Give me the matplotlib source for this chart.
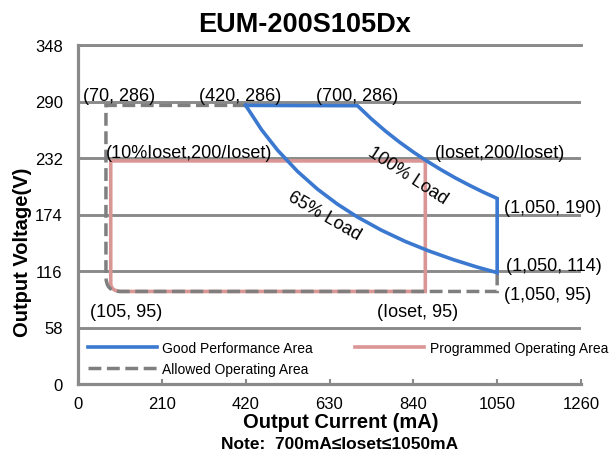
import matplotlib
matplotlib.use('Agg')
import matplotlib.pyplot as plt
from matplotlib.path import Path
from matplotlib.patches import PathPatch
from matplotlib.lines import Line2D

plt.rcParams['font.family'] = ['Liberation Sans', 'DejaVu Sans']

# axis ticks
x_ticks = [0, 210, 420, 630, 840, 1050, 1260]
y_ticks = [0, 58, 116, 174, 232, 290, 348]

# good performance area: top edge + 100% load curve, then 65% load curve back
full_load_i = [420, 700, 735, 770, 805, 840, 875, 910, 945, 980, 1015, 1050]
full_load_v = [286, 285.7, 272.1, 259.7, 248.4, 238.1, 228.6, 219.8, 211.6, 204.1, 197.0, 190.5]
part_load_i = [1050, 1000, 940, 880, 820, 760, 700, 650, 600, 550, 500, 460, 420]
part_load_v = [114.3, 120.0, 127.7, 136.4, 146.3, 157.9, 171.4, 184.6, 200.0, 218.2, 240.0, 260.9, 286]

# programmed operating area (Ioset ~ 870 mA), rounded bottom-left corner
prog_i = [870, 870, 110, 82, 82, 82, 870]
prog_v = [229, 95, 95, 95, 103, 229, 229]

# allowed operating area
allowed_i = [420, 70, 70, 70, 105, 1050, 1050]
allowed_v = [286, 286, 110, 95, 95, 95, 114]

corner_codes = [Path.MOVETO, Path.LINETO, Path.LINETO, Path.CURVE3, Path.CURVE3, Path.LINETO, Path.LINETO]

blue = '#3B78CF'
pink = '#DA9694'
gray = '#7F7F7F'
grid_gray = '#8A8A8A'

fig = plt.figure(figsize=(6.14, 4.56), dpi=100)
ax = fig.add_axes([78 / 614, 71 / 456, 503 / 614, 339 / 456])

ax.set_xlim(0, 1260)
ax.set_ylim(0, 348)
ax.set_xticks(x_ticks)
ax.set_yticks(y_ticks)

ax.grid(axis='y', color=grid_gray, linewidth=2.1)
ax.set_axisbelow(True)
for s in ['left', 'bottom', 'top']:
    ax.spines[s].set_color(grid_gray)
    ax.spines[s].set_linewidth(2.3)
ax.spines['top'].set_linewidth(2.1)
ax.spines['right'].set_visible(False)

ax.tick_params(axis='x', direction='in', length=3.5, width=1.5, color=grid_gray,
               labelsize=12, pad=8.5)
ax.tick_params(axis='y', length=0, labelsize=12, pad=11)

prog_path = Path(list(zip(prog_i, prog_v)), corner_codes)
ax.add_patch(PathPatch(prog_path, fill=False, edgecolor=pink, linewidth=2.6, zorder=3))

allowed_path = Path(list(zip(allowed_i, allowed_v)), corner_codes)
ax.add_patch(PathPatch(allowed_path, fill=False, edgecolor=gray, linewidth=2.5,
                       linestyle='--', zorder=4))

ax.plot(full_load_i + part_load_i, full_load_v + part_load_v, color=blue,
        linewidth=2.6, solid_joinstyle='miter', zorder=5)

# point labels
lab = dict(fontsize=13, ha='left', va='baseline', zorder=6)
ax.text(13, 292, '(70, 286)', **lab)
ax.text(304, 292, '(420, 286)', **lab)
ax.text(595, 292, '(700, 286)', **lab)
ax.text(71, 233, '(10%Ioset,200/Ioset)', **lab)
ax.text(895, 233, '(Ioset,200/Ioset)', **lab)
ax.text(1068, 176.5, '(1,050, 190)', **lab)
ax.text(1073, 117.5, '(1,050, 114)', **lab)
ax.text(1068, 87, '(1,050, 95)', **lab)
ax.text(31, 70, '(105, 95)', **lab)
ax.text(748, 70, '(Ioset, 95)', **lab)
ax.text(825, 214, '100% Load', fontsize=13, rotation=-33, ha='center', va='center',
        rotation_mode='anchor', zorder=6)
ax.text(617, 173.5, '65% Load', fontsize=13, rotation=-30, ha='center', va='center',
        rotation_mode='anchor', zorder=6)

handles = [
    Line2D([], [], color=blue, linewidth=2.6),
    Line2D([], [], color=gray, linewidth=2.5, linestyle='--'),
    Line2D([], [], color=pink, linewidth=2.6),
]
labels = ['Good Performance Area', 'Allowed Operating Area', 'Programmed Operating Area']
ax.legend(handles, labels, ncol=2, loc='upper left', bbox_to_anchor=(0.019, 0.126),
          frameon=False, borderpad=0, borderaxespad=0, fontsize=10,
          handlelength=5.0, handletextpad=0.39, columnspacing=3.0, labelspacing=0.5)

fig.text(305 / 614, 1 - 32 / 456, 'EUM-200S105Dx', fontsize=19.5, fontweight='bold',
         ha='center', va='baseline')
fig.text(341 / 614, 1 - 428 / 456, 'Output Current (mA)', fontsize=14.5, fontweight='bold',
         ha='center', va='baseline')
fig.text(340 / 614, 1 - 449 / 456, 'Note:  700mA\u2264Ioset\u22641050mA', fontsize=12.5,
         fontweight='bold', ha='center', va='baseline')
fig.text(23 / 614, 1 - 252 / 456, 'Output Voltage(V)', fontsize=14.5, fontweight='bold',
         rotation=90, ha='center', va='center')

fig.savefig('out.png', dpi=100)
